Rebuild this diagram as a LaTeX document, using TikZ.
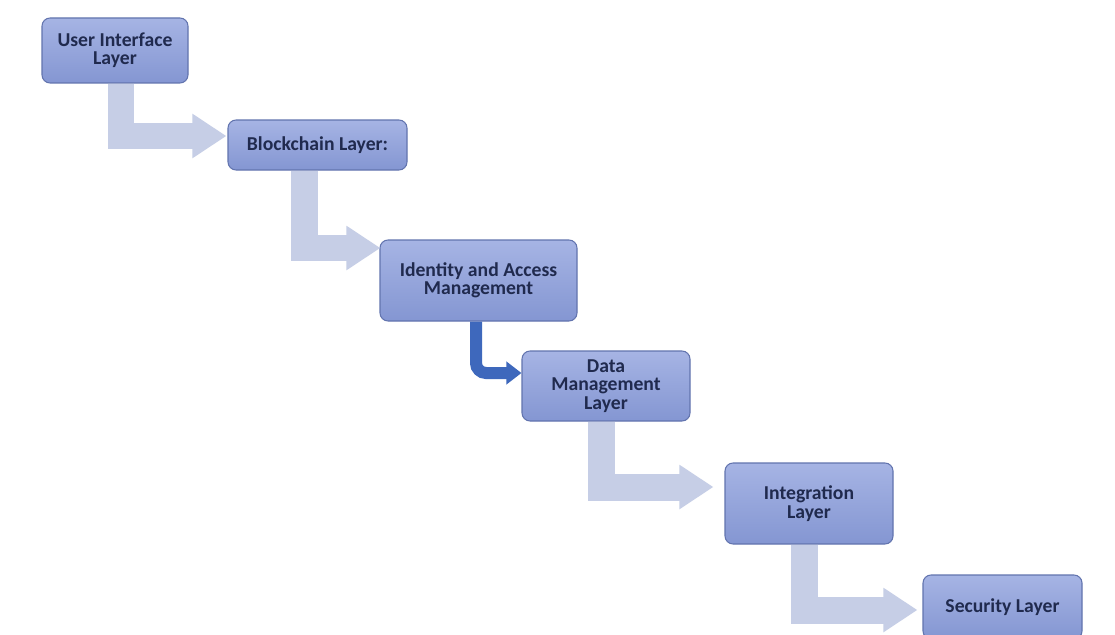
\documentclass[tikz,border=0pt]{standalone}
\usepackage{fontspec}
\setmainfont{Carlito}
\usetikzlibrary{arrows.meta,calc}

\definecolor{boxtop}{RGB}{166,180,228}
\definecolor{boxbot}{RGB}{132,150,210}
\definecolor{boxline}{RGB}{98,116,174}
\definecolor{boxtext}{RGB}{32,42,78}
\definecolor{flowlight}{RGB}{198,206,230}
\definecolor{flowdark}{RGB}{62,104,188}

\begin{document}
\begin{tikzpicture}[x=0.02cm,y=-0.02cm,
  layer/.style={draw=boxline,line width=0.6pt,rounded corners=0.16cm,top color=boxtop,bottom color=boxbot,
    text=boxtext,align=center,inner sep=0pt,font=\fontsize{11.2}{10.4}\selectfont\bfseries},
  flow/.style={draw=flowlight,line width=0.54cm,line join=miter,-{Triangle[length=0.68cm,width=0.84cm]}},
  flowmain/.style={draw=flowdark,line width=0.24cm,rounded corners=0.2cm,-{Triangle[length=0.3cm,width=0.44cm]}}]

\useasboundingbox[fill=white] (0,0) rectangle (1115,635);

% layers
\node[layer,minimum width=146*0.02cm,minimum height=65*0.02cm] (ui) at (115,50.5) {User Interface\\Layer};
\node[layer,minimum width=179*0.02cm,minimum height=50*0.02cm] (bc) at (317.5,145) {Blockchain Layer:};
\node[layer,minimum width=197*0.02cm,minimum height=81*0.02cm] (iam) at (478.5,280.5) {Identity and Access\\Management};
\node[layer,minimum width=168*0.02cm,minimum height=70*0.02cm] (dm) at (606,386) {Data\\Management\\Layer};
\node[layer,minimum width=168*0.02cm,minimum height=81*0.02cm] (int) at (809,503.5) {Integration\\Layer};
\node[layer,minimum width=159*0.02cm,minimum height=64*0.02cm] (sec) at (1002.5,607) {Security Layer};

% arrows
\draw[flow] ($(ui.south)+(6,0)$) |- ($(bc.west)+(-1,-9)$);
\draw[flow] ($(bc.south)+(-13.5,0)$) |- ($(iam.west)+(1,-32.5)$);
\draw[flowmain] ($(iam.south)+(-2.5,0)$) |- ($(dm.west)+(0,-13)$);
\draw[flow] ($(dm.south)+(-5,0)$) |- ($(int.west)+(-11,-16.5)$);
\draw[flow] ($(int.south)+(-5,0)$) |- ($(sec.west)+(-5,3)$);

\end{tikzpicture}
\end{document}
